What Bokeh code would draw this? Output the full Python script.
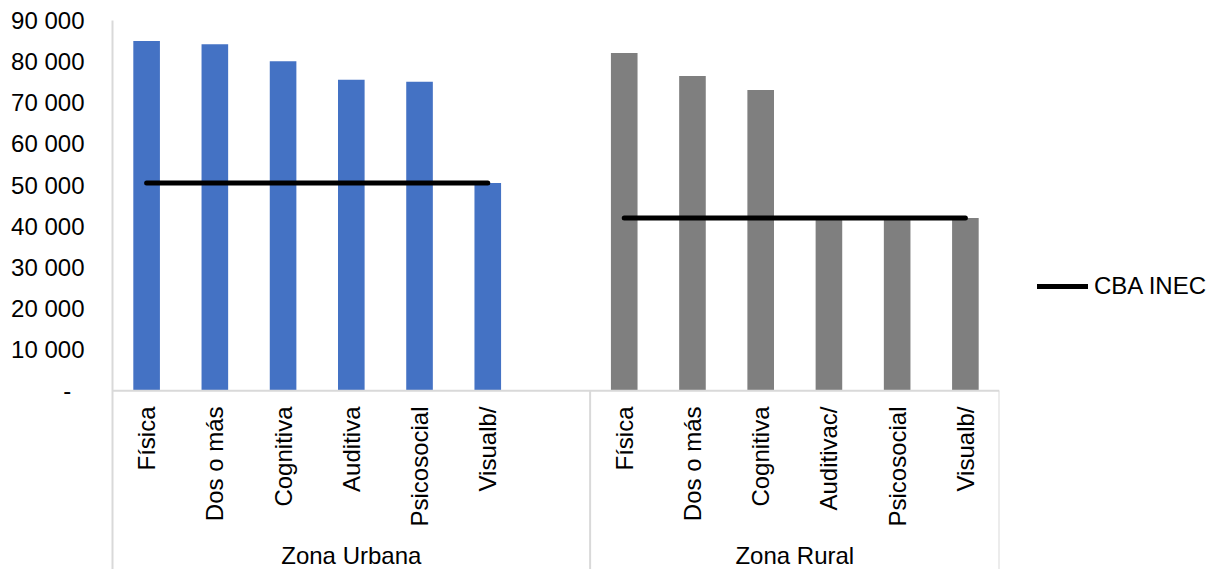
import math

from bokeh.core.properties import value
from bokeh.embed import file_html
from bokeh.models import FactorRange, FixedTicker, Legend, LegendItem, Range1d
from bokeh.plotting import figure
from bokeh.resources import INLINE

# ---- data -----------------------------------------------------------------
zones = ["Zona Urbana", "Zona Rural"]
urban_types = ["Física", "Dos o más", "Cognitiva", "Auditiva", "Psicosocial", "Visualb/"]
rural_types = ["Física", "Dos o más", "Cognitiva", "Auditivac/", "Psicosocial", "Visualb/"]
urban_values = [85000, 84200, 80100, 75600, 75100, 50500]
rural_values = [82100, 76500, 73100, 42000, 42000, 42000]
cba_urban = 50500
cba_rural = 42000
y_ticks = [0, 10000, 20000, 30000, 40000, 50000, 60000, 70000, 80000, 90000]
# accounting style: the zero dash sits a little in from the right edge
y_tick_labels = ["-\u00a0\u00a0", "10 000", "20 000", "30 000", "40 000", "50 000",
                 "60 000", "70 000", "80 000", "90 000"]

# ---- layout constants (screen pixels) -------------------------------------
HEIGHT = 569
FRAME_LEFT, FRAME_RIGHT = 112, 999
FRAME_TOP = 20
ZERO_PX = 390.3            # screen row of the value 0
Y_MAX = 90000
units_per_px = Y_MAX / (ZERO_PX - FRAME_TOP)
y_floor = -(HEIGHT - ZERO_PX) * units_per_px


def below_zero(px):
    """Data value for a screen row under the value axis baseline."""
    return -(px - ZERO_PX) * units_per_px


FONT = "Liberation Sans"
FONT_SIZE = "24px"
AXIS_GREY = "#D9D9D9"

urban_x = [(zones[0], t) for t in urban_types]
rural_x = [(zones[1], t) for t in rural_types]

x_range = FactorRange(*(urban_x + rural_x), group_padding=1, range_padding=0)
y_range = Range1d(y_floor, Y_MAX)

p = figure(
    frame_width=FRAME_RIGHT - FRAME_LEFT, frame_height=HEIGHT - FRAME_TOP,
    x_range=x_range, y_range=y_range,
    x_axis_location=None,
    output_backend="svg", toolbar_location=None,
    min_border_left=FRAME_LEFT, min_border_right=0,
    min_border_top=FRAME_TOP, min_border_bottom=0,
)
p.outline_line_color = None
p.xgrid.visible = False
p.ygrid.visible = False
p.background_fill_color = "white"
p.border_fill_color = "white"

# value axis
yax = p.yaxis[0]
yax.ticker = FixedTicker(ticks=y_ticks)
yax.major_label_overrides = dict(zip(y_ticks, y_tick_labels))
yax.major_tick_line_color = None
yax.minor_tick_line_color = None
yax.major_tick_in = 0
yax.major_tick_out = 0
yax.major_label_standoff = 28
yax.major_label_text_font = FONT
yax.major_label_text_font_size = FONT_SIZE
yax.major_label_text_color = "black"
yax.axis_line_color = AXIS_GREY
yax.axis_line_width = 2

# bars
p.vbar(x=urban_x, top=urban_values, width=0.39, fill_color="#4472C4", line_color=None)
p.vbar(x=rural_x, top=rural_values, width=0.39, fill_color="#7F7F7F", line_color=None)

# category axis: baseline, group separators and right edge
start = (zones[0], urban_types[0], -0.5)
divider = (zones[1], rural_types[0], -0.5)
end = (zones[1], rural_types[-1], 0.5)
p.segment(x0=[start, divider, end], y0=[0, 0, 0],
          x1=[end, divider, end], y1=[0, y_floor, y_floor],
          line_color=AXIS_GREY, line_width=2)

# category labels, rotated and hanging from just under the baseline
p.text(x=urban_x + rural_x, y=[below_zero(406)] * len(urban_x + rural_x),
       text=urban_types + rural_types, angle=math.pi / 2,
       text_align="right", text_baseline="middle",
       text_font=value(FONT), text_font_size=FONT_SIZE, text_color="black")

# group labels (the urban one is centred over its group plus the gap after it)
p.text(x=[(zones[0], 0.5), (zones[1], 0.0)], y=[below_zero(555)] * 2,
       text=zones, text_align="center", text_baseline="middle",
       text_font=value(FONT), text_font_size=FONT_SIZE, text_color="black")

# CBA INEC reference lines
cba_u = p.line(x=urban_x, y=[cba_urban] * len(urban_x), line_color="black",
               line_width=5, line_cap="round")
cba_r = p.line(x=rural_x, y=[cba_rural] * len(rural_x), line_color="black",
               line_width=5, line_cap="round")

legend = Legend(
    items=[LegendItem(label="CBA INEC", renderers=[cba_u])],
    location=(38, 269),
    orientation="vertical",
    padding=0, margin=18, spacing=0,
    glyph_width=51, glyph_height=24, label_standoff=6,
    label_text_font=FONT, label_text_font_size=FONT_SIZE, label_text_color="black",
    border_line_color=None, background_fill_alpha=0,
)
p.add_layout(legend, "right")

open("out.html", "w").write(file_html(p, INLINE))
